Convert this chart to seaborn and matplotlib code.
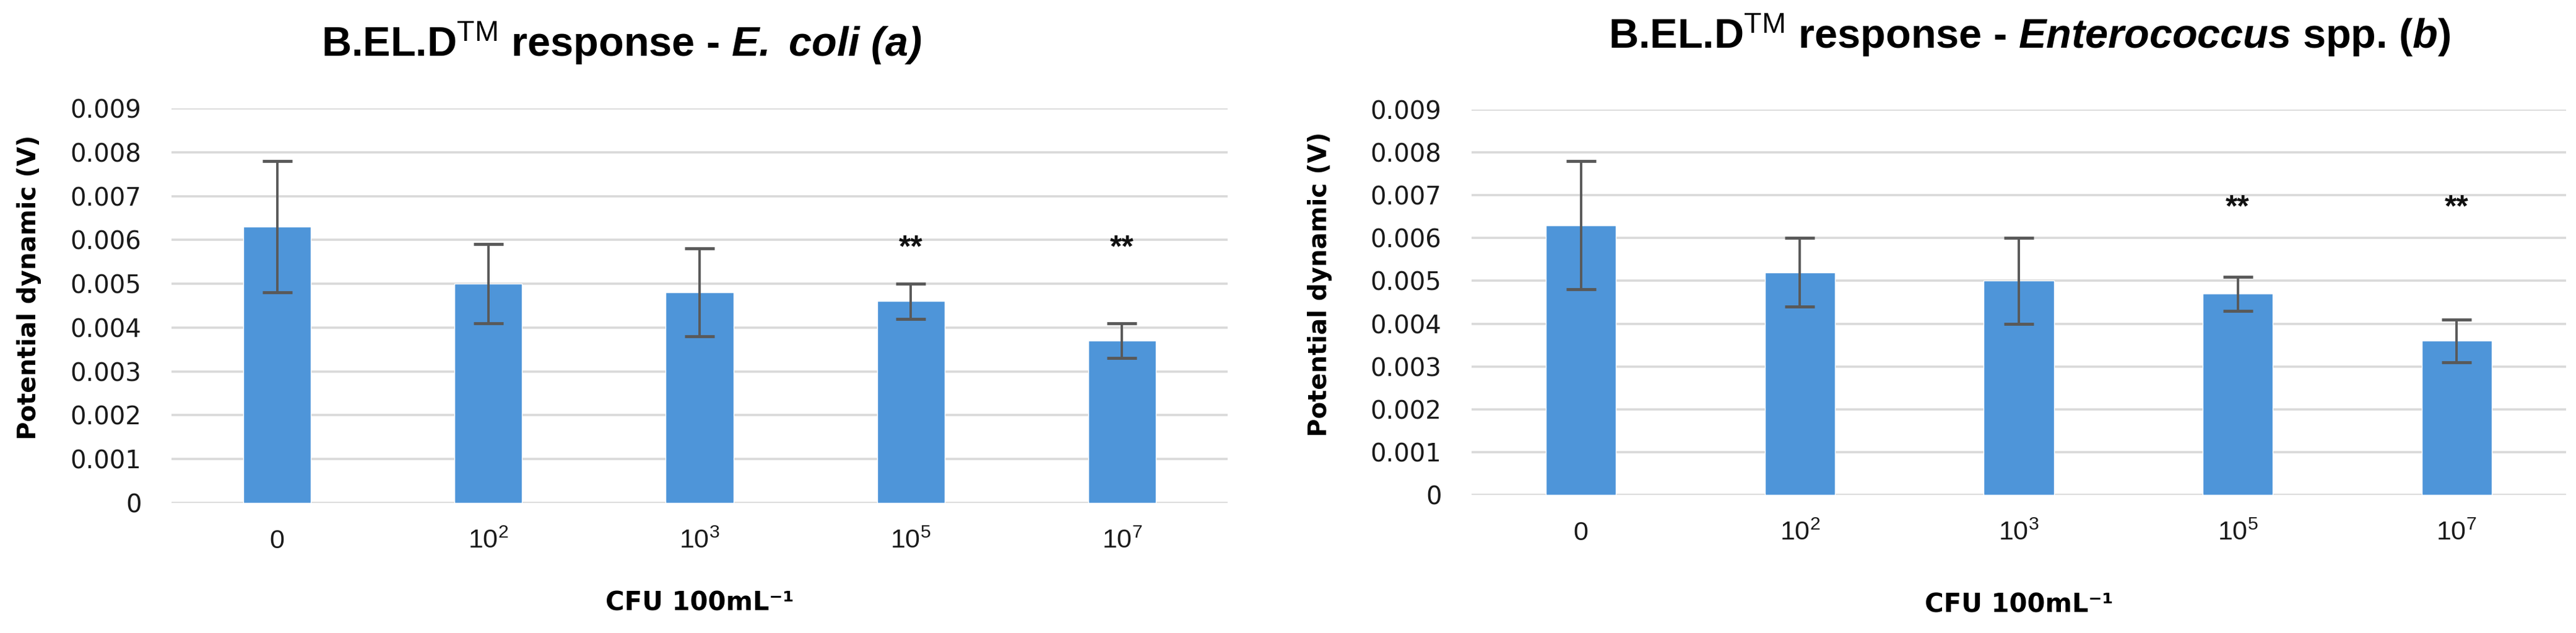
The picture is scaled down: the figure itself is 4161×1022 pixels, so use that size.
import numpy as np
import pandas as pd
import seaborn as sns
import matplotlib.pyplot as plt
from matplotlib.ticker import FuncFormatter

# Data
categories = ['0', '$10^{2}$', '$10^{3}$', '$10^{5}$', '$10^{7}$']
ecoli_mean = [0.0063, 0.0050, 0.0048, 0.0046, 0.0037]
ecoli_sd = [0.0015, 0.0009, 0.0010, 0.0004, 0.0004]
entero_mean = [0.0063, 0.0052, 0.0050, 0.0047, 0.0036]
entero_sd = [0.0015, 0.0008, 0.0010, 0.0004, 0.0005]
star_idx = [3, 4]
ecoli_star_y = 0.0058
entero_star_y = 0.0067

sns.set_style('white')
plt.rcParams['font.family'] = ['DejaVu Sans']
plt.rcParams['text.color'] = 'black'
plt.rcParams['axes.labelcolor'] = 'black'
plt.rcParams['mathtext.fontset'] = 'custom'
plt.rcParams['mathtext.rm'] = 'Liberation Sans'
plt.rcParams['mathtext.bf'] = 'Liberation Sans:bold'
plt.rcParams['mathtext.it'] = 'Liberation Sans:italic'
plt.rcParams['mathtext.bfit'] = 'Liberation Sans:italic:bold'

W, H = 4161, 1022
fig = plt.figure(figsize=(W / 100, H / 100), dpi=100)
fig.patch.set_facecolor('white')

bar_col = '#4E95D9'
err_col = '#595959'
grid_col = '#D9D9D9'


def draw_panel(ax, means, sds, star_y, title, title_xy, ylab_x, xlab_y):
    df = pd.DataFrame({'cfu': categories, 'v': means})
    sns.barplot(data=df, x='cfu', y='v', color=bar_col, width=0.32,
                saturation=1, errorbar=None, ax=ax, zorder=2)
    ax.errorbar(np.arange(len(means)), means, yerr=sds, fmt='none',
                ecolor=err_col, elinewidth=2.8, capsize=17, capthick=3.5, zorder=3)
    for i in star_idx:
        ax.text(i, star_y, '**', ha='center', va='center', fontsize=36,
                family='Liberation Sans', fontweight='bold', color='#111111')
    ax.set_ylim(0, 0.009)
    ax.set_xlim(-0.5, len(means) - 0.5)
    ax.set_yticks(np.arange(0, 0.0091, 0.001))
    ax.yaxis.set_major_formatter(FuncFormatter(lambda v, p: '0' if abs(v) < 1e-9 else f'{v:.3f}'))
    ax.grid(axis='y', color=grid_col, linewidth=2.6, zorder=0)
    ax.set_axisbelow(True)
    for s in ax.spines.values():
        s.set_visible(False)
    ax.tick_params(axis='y', length=0, pad=35, labelsize=29, labelcolor='#1a1a1a')
    ax.tick_params(axis='x', length=0, pad=30, labelsize=31, labelcolor='#1a1a1a')
    for lab in ax.get_xticklabels():
        lab.set_family('Liberation Sans')
    ax.set_ylabel('Potential dynamic (V)', fontsize=29, fontweight='bold')
    ax.yaxis.set_label_coords(ylab_x, 0.546)
    ax.set_xlabel('CFU 100mL⁻¹', fontsize=30, fontweight='bold')
    ax.xaxis.set_label_coords(0.5, xlab_y)
    fig.text(title_xy[0] / W, 1 - title_xy[1] / H, title, ha='center', va='center',
             fontsize=48, fontweight='bold', family='Liberation Sans', color='black')


ax1 = fig.add_axes([277 / W, 1 - 812 / H, 1706 / W, 637 / H])
ax2 = fig.add_axes([2377 / W, 1 - 799 / H, 1768 / W, 622 / H])

draw_panel(ax1, ecoli_mean, ecoli_sd, ecoli_star_y,
           r'B.EL.D$^{\mathrm{TM}}$ response - $\mathbfit{E.}$ $\mathbfit{coli}$ $\mathbfit{(a)}$',
           (1004, 70), -0.123, -0.22)
draw_panel(ax2, entero_mean, entero_sd, entero_star_y,
           r'B.EL.D$^{\mathrm{TM}}$ response - $\mathbfit{Enterococcus}$ spp. ($\mathbfit{b}$)',
           (3278, 57), -0.127, -0.251)

fig.savefig('out.png', dpi=100, facecolor='white')
